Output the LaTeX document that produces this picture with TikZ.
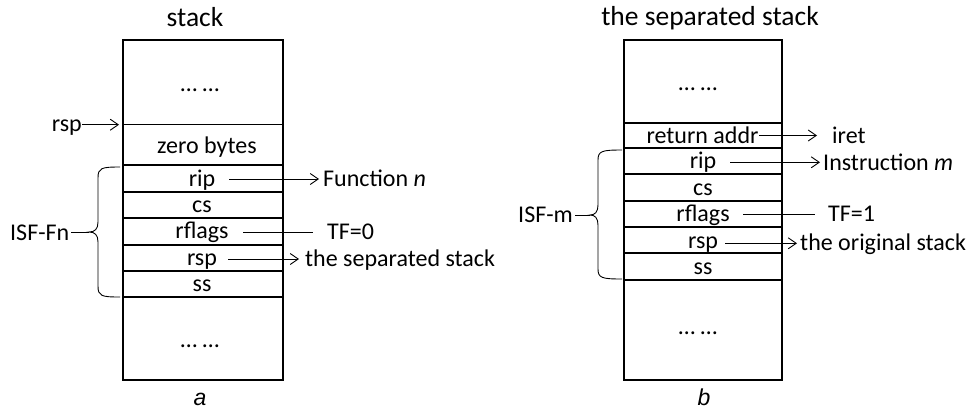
\documentclass[tikz,border=0pt]{standalone}
\usepackage{fontspec}
\setmainfont{Carlito}
\newfontfamily\capfont{Liberation Sans}
\usetikzlibrary{arrows.meta}
\begin{document}
\begin{tikzpicture}[x=1pt,y=-1pt,
 lbl/.style={inner sep=0pt, font=\fontsize{24}{28}\selectfont},
 ttl/.style={inner sep=0pt, font=\fontsize{27.5}{32}\selectfont},
 captxt/.style={inner sep=0pt, font=\capfont\itshape\fontsize{23}{27}\selectfont},
 boxln/.style={line width=1.8pt},
 thinln/.style={line width=0.9pt},
 arr/.style={line width=0.9pt, -{Straight Barb[length=8pt,width=11pt,line width=0.9pt]}},
]
\useasboundingbox (0,0) rectangle (971,410);

% ---------------- left stack ----------------
\node[ttl, anchor=base] (Ltitle) at (195,26.5) {stack};
\draw[boxln] (123,40) rectangle (283,380);
\draw[thinln] (123,124.7) -- (283,124.7);
\foreach \y in {164.7,192,218,245,271,297} \draw[boxln] (123,\y) -- (283,\y);

\node[lbl] (Ldots1) at (200,90) {…\ …};
\node[lbl, anchor=base] (Lzero) at (207,153) {zero bytes};
\node[lbl, anchor=base] (Lrip) at (202,186) {rip};
\node[lbl, anchor=base] (Lcs) at (202,212) {cs};
\node[lbl, anchor=base] (Lrfl) at (202,238) {rflags};
\node[lbl, anchor=base] (Lrsp) at (202,265) {rsp};
\node[lbl, anchor=base] (Lss) at (202,291) {ss};
\node[lbl] (Ldots2) at (200,346) {…\ …};

\node[lbl, anchor=base east] (LrspL) at (82,131) {rsp};
\coordinate (Lmark) at (119,124.7);
\draw[arr] (LrspL.east |- Lmark) -- (Lmark);

\node[lbl, anchor=base west] (LisF) at (10,240) {ISF-Fn};
\coordinate (LtipL) at (89,232);
\draw[thinln] (120,167) .. controls (101,167) and (98,168) .. (98,178) -- (98,222)
  .. controls (98,229) and (95,232) .. (LtipL)
  .. controls (95,232) and (98,235) .. (98,242) -- (98,286)
  .. controls (98,296) and (101,297) .. (120,297);
\draw[thinln] ([xshift=2pt]LisF.east |- LtipL) -- (LtipL);

\node[lbl, anchor=base west] (Lfn) at (323,186) {Function \textit{n}};
\node[lbl, anchor=base west] (Ltf) at (327,239) {TF=0};
\node[lbl, anchor=base west] (Lsep) at (305,266.5) {the separated stack};
\coordinate (LripS) at (229,179);
\coordinate (LrflS) at (243,232);
\coordinate (LrspS) at (228,259);
\draw[arr] (LripS) -- ([xshift=-4pt]Lfn.west |- LripS);
\draw[thinln] (LrflS) -- ([xshift=-14pt]Ltf.west |- LrflS);
\draw[arr] (LrspS) -- ([xshift=-6pt]Lsep.west |- LrspS);

\node[captxt, anchor=base] (La) at (200,405) {a};

% ---------------- right stack ----------------
\node[ttl, anchor=base] (Rtitle) at (710,25) {the separated stack};
\draw[boxln] (624,40) rectangle (782,380);
\foreach \y in {122.7,148,174,200.7,227,253,280} \draw[boxln] (624,\y) -- (782,\y);

\node[lbl] (Rdots1) at (698,89) {…\ …};
\node[lbl, anchor=base] (Rret) at (702.5,143) {return addr};
\node[lbl, anchor=base] (Rrip) at (703,168.3) {rip};
\node[lbl, anchor=base] (Rcs) at (703,195) {cs};
\node[lbl, anchor=base] (Rrfl) at (703,221.7) {rflags};
\node[lbl, anchor=base] (Rrsp) at (703,248.3) {rsp};
\node[lbl, anchor=base] (Rss) at (703,274) {ss};
\node[lbl] (Rdots2) at (698,333) {…\ …};

\node[lbl, anchor=base west] (RisF) at (518,222.7) {ISF-m};
\coordinate (RtipR) at (590,215);
\draw[thinln] (622,150) .. controls (602,150) and (598,151) .. (598,160) -- (598,205)
  .. controls (598,212) and (595,215) .. (RtipR)
  .. controls (595,215) and (598,218) .. (598,225) -- (598,269)
  .. controls (598,278) and (602,279) .. (622,279);
\draw[thinln] ([xshift=2pt]RisF.east |- RtipR) -- (RtipR);

\node[lbl, anchor=base west] (Riret) at (832,143.3) {iret};
\node[lbl, anchor=base west] (Rins) at (823,170) {Instruction \textit{m}};
\node[lbl, anchor=base west] (Rtf) at (828,221.7) {TF=1};
\node[lbl, anchor=base west] (Rorig) at (800,250) {the original stack};
\coordinate (RretS) at (759,135.5);
\coordinate (RripS) at (730,162.3);
\coordinate (RrflS) at (743,214.3);
\coordinate (RrspS) at (725,243.3);
\draw[arr] (RretS) -- ([xshift=-15pt]Riret.west |- RretS);
\draw[arr] (RripS) -- ([xshift=-3pt]Rins.west |- RripS);
\draw[thinln] (RrflS) -- ([xshift=-13pt]Rtf.west |- RrflS);
\draw[arr] (RrspS) -- ([xshift=-3pt]Rorig.west |- RrspS);

\node[captxt, anchor=base] (Rb) at (704,405) {b};
\end{tikzpicture}
\end{document}
